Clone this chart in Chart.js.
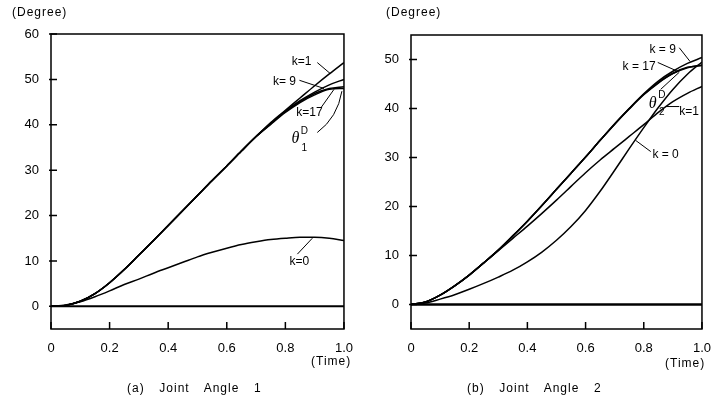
<!DOCTYPE html>
<html>
<head>
<meta charset="utf-8">
<script src="https://cdn.jsdelivr.net/npm/chart.js@4/dist/chart.umd.min.js"></script>
<style>
  body { margin: 0; background: #fff; }
  #page { position: relative; width: 715px; height: 400px; overflow: hidden; font-family: "Liberation Sans", Arial, sans-serif; color: #000; }
  .box { position: absolute; top: 0; }
  .lbl { position: absolute; font-size: 12px; letter-spacing: 1px; white-space: pre; }
  .cap { position: absolute; font-size: 12px; letter-spacing: 1px; word-spacing: 3px; white-space: pre; }
</style>
</head>
<body>
<div id="page">
  <div class="box" style="left:0;width:357px;height:400px"><canvas id="chartA" width="357" height="400"></canvas></div>
  <div class="box" style="left:357px;width:358px;height:400px"><canvas id="chartB" width="358" height="400"></canvas></div>
  <div class="lbl" style="left:12px;top:5px">(Degree)</div>
  <div class="lbl" style="left:386px;top:5px">(Degree)</div>
  <div class="lbl" style="left:311px;top:354px">(Time)</div>
  <div class="lbl" style="left:665px;top:356px">(Time)</div>
  <div class="cap" style="left:127px;top:381px">(a)  Joint  Angle  1</div>
  <div class="cap" style="left:467px;top:381px">(b)  Joint  Angle  2</div>
</div>
<script>
// time axis samples
const times = [0, 0.05, 0.1, 0.15, 0.2, 0.25, 0.3, 0.35, 0.4, 0.45, 0.5,
               0.55, 0.6, 0.65, 0.7, 0.75, 0.8, 0.85, 0.9, 0.95, 1.0];

// (a) joint angle 1
const angle1_k1    = [0, 0.2, 1.1, 2.8, 5.2, 8.1, 11.3, 14.5, 17.8, 21.1, 24.4, 27.7, 30.9, 34.2, 37.4, 40.5, 43.2, 45.9, 48.6, 51.2, 53.7];
const angle1_k9    = [0, 0.2, 1.1, 2.8, 5.2, 8.1, 11.3, 14.5, 17.8, 21.1, 24.4, 27.7, 30.9, 34.2, 37.4, 40.3, 43.0, 45.3, 47.2, 48.8, 50.0];
const angle1_k17   = [0, 0.2, 1.1, 2.8, 5.2, 8.1, 11.3, 14.5, 17.8, 21.1, 24.4, 27.7, 30.9, 34.2, 37.4, 40.2, 42.9, 45.1, 46.9, 48.0, 48.4];
const angle1_theta = [0, 0.2, 1.1, 2.8, 5.2, 8.1, 11.3, 14.5, 17.8, 21.1, 24.4, 27.7, 30.9, 34.2, 37.4, 40.1, 42.7, 44.9, 46.6, 47.8, 48.0];
const angle1_k0    = [0, 0.3, 1.0, 2.1, 3.4, 4.8, 6.0, 7.3, 8.5, 9.7, 10.9, 11.9, 12.8, 13.6, 14.2, 14.7, 15.0, 15.2, 15.2, 15.0, 14.5];

// (b) joint angle 2
const angle2_k9    = [0, 0.5, 1.9, 3.8, 6.0, 8.5, 11.1, 14.0, 17.0, 20.2, 23.5, 26.8, 30.1, 33.5, 36.9, 40.0, 43.0, 45.6, 47.6, 49.2, 50.4];
const angle2_k17   = [0, 0.5, 1.9, 3.8, 6.0, 8.5, 11.1, 14.0, 17.0, 20.2, 23.5, 26.8, 30.1, 33.5, 36.8, 40.0, 42.9, 45.3, 47.2, 48.4, 48.8];
const angle2_theta = [0, 0.5, 1.9, 3.8, 6.0, 8.5, 11.1, 14.0, 17.0, 20.2, 23.5, 26.8, 30.1, 33.5, 36.8, 39.9, 42.8, 45.2, 47.1, 48.3, 48.9];
const angle2_k1    = [0, 0.5, 1.9, 3.8, 6.0, 8.5, 11.0, 13.5, 16.0, 18.6, 21.3, 24.1, 26.9, 29.5, 31.9, 34.3, 36.7, 39.2, 41.4, 43.1, 44.5];
const angle2_k0    = [0, 0.3, 1.1, 2.0, 3.1, 4.3, 5.6, 7.0, 8.7, 10.7, 13.1, 15.9, 19.2, 23.1, 27.4, 31.8, 36.1, 40.2, 43.9, 47.0, 49.5];

// zero reference line
const baseX = [0, 1];
const baseY = [0, 0];

// tick values
const xTicks  = [0, 0.2, 0.4, 0.6, 0.8, 1.0];
const y1Ticks = [0, 10, 20, 30, 40, 50, 60];
const y2Ticks = [0, 10, 20, 30, 40, 50];

// curve labels, placed in data units
const notes1 = [
  { text: 'k=1',  x: 0.855, y: 54.0, from: [0.909, 53.7], to: [0.953, 51.3] },
  { text: 'k= 9', x: 0.797, y: 49.6, from: [0.848, 49.8], to: [0.932, 48.0] },
  { text: 'k=17', x: 0.882, y: 42.7, from: [0.922, 43.8], to: [0.966, 47.8] },
  { theta: '1',   x: 0.834, y: 36.8, from: [0.909, 38.3], via: [0.978, 41.6], to: [0.993, 47.4] },
  { text: 'k=0',  x: 0.848, y: 9.9,  from: [0.841, 11.5], to: [0.892, 15.0] }
];
const notes2 = [
  { text: 'k = 9',  x: 0.865, y: 52.0, from: [0.922, 52.4], to: [0.959, 49.6] },
  { text: 'k = 17', x: 0.784, y: 48.6, from: [0.848, 49.4], to: [0.916, 47.6] },
  { theta: '2',     x: 0.831, y: 41.0, from: [0.858, 43.9], to: [0.922, 47.4] },
  { text: 'k=1',    x: 0.956, y: 39.4, from: [0.922, 40.4], to: [0.875, 40.4] },
  { text: 'k = 0',  x: 0.875, y: 30.6, from: [0.824, 31.2], to: [0.772, 33.5] }
];

const toPoints = (xs, ys) => xs.map((t, i) => ({ x: t, y: ys[i] }));

const curve = (ys) => ({
  data: toPoints(times, ys),
  borderColor: '#000',
  borderWidth: 1.5,
  pointRadius: 0,
  fill: false,
  cubicInterpolationMode: 'monotone'
});

const baseline = (w) => ({
  data: toPoints(baseX, baseY),
  borderColor: '#000',
  borderWidth: w,
  pointRadius: 0,
  fill: false
});

// frame, inward ticks and curve labels
const framePlugin = {
  id: 'framePlugin',
  afterDatasetsDraw(chart, args, opts) {
    const { ctx, chartArea: a, scales: { x, y } } = chart;
    ctx.save();
    ctx.strokeStyle = '#000';
    ctx.fillStyle = '#000';
    ctx.lineWidth = 1.5;
    ctx.strokeRect(a.left, a.top, a.right - a.left, a.bottom - a.top);

    ctx.beginPath();
    x.ticks.forEach(t => {
      const px = x.getPixelForValue(t.value);
      ctx.moveTo(px, a.bottom);
      ctx.lineTo(px, a.bottom - 7);
    });
    y.ticks.forEach(t => {
      const py = y.getPixelForValue(t.value);
      ctx.moveTo(a.left - 2, py);
      ctx.lineTo(a.left + 6, py);
    });
    ctx.stroke();

    ctx.lineWidth = 1;
    ctx.textAlign = 'center';
    ctx.textBaseline = 'middle';
    opts.notes.forEach(n => {
      const px = x.getPixelForValue(n.x);
      const py = y.getPixelForValue(n.y);
      if (n.theta) {
        ctx.font = 'italic 16px "Liberation Serif", serif';
        ctx.fillText('\u03B8', px, py);
        ctx.font = '10px "Liberation Sans", Arial, sans-serif';
        ctx.fillText('D', px + 9, py - 8);
        ctx.fillText(n.theta, px + 9, py + 9);
      } else {
        ctx.font = '12px "Liberation Sans", Arial, sans-serif';
        ctx.fillText(n.text, px, py);
      }
      ctx.beginPath();
      ctx.moveTo(x.getPixelForValue(n.from[0]), y.getPixelForValue(n.from[1]));
      if (n.via) {
        ctx.quadraticCurveTo(x.getPixelForValue(n.via[0]), y.getPixelForValue(n.via[1]),
                             x.getPixelForValue(n.to[0]), y.getPixelForValue(n.to[1]));
      } else {
        ctx.lineTo(x.getPixelForValue(n.to[0]), y.getPixelForValue(n.to[1]));
      }
      ctx.stroke();
    });
    ctx.restore();
  }
};

const makeChart = (canvas, datasets, yMin, yMax, yTicks, yWidth, pad, notes) => new Chart(canvas, {
  type: 'line',
  data: { datasets: datasets },
  options: {
    responsive: false,
    animation: false,
    layout: { padding: pad },
    plugins: {
      legend: { display: false },
      tooltip: { enabled: false },
      framePlugin: { notes: notes }
    },
    scales: {
      x: {
        type: 'linear',
        min: 0,
        max: 1,
        grid: { display: false },
        border: { display: false },
        afterBuildTicks: s => { s.ticks = xTicks.map(v => ({ value: v })); },
        afterFit: s => { s.height = 24; },
        ticks: {
          color: '#000',
          padding: 4,
          maxRotation: 0,
          font: { size: 13, family: '"Liberation Sans", Arial, sans-serif' },
          callback: v => (v === 0 ? '0' : v.toFixed(1))
        }
      },
      y: {
        min: yMin,
        max: yMax,
        grid: { display: false },
        border: { display: false },
        afterBuildTicks: s => { s.ticks = yTicks.map(v => ({ value: v })); },
        afterFit: s => { s.width = yWidth; },
        ticks: {
          color: '#000',
          padding: 4,
          font: { size: 13, family: '"Liberation Sans", Arial, sans-serif' },
          callback: v => String(v)
        }
      }
    }
  },
  plugins: [framePlugin]
});

const chartA = makeChart(document.getElementById('chartA'), [
  curve(angle1_k1), curve(angle1_k9), curve(angle1_k17), curve(angle1_theta), curve(angle1_k0), baseline(2)
], -5, 60, y1Ticks, 51, { left: 0, top: 34, right: 10, bottom: 47 }, notes1);

const chartB = makeChart(document.getElementById('chartB'), [
  curve(angle2_k9), curve(angle2_k17), curve(angle2_theta), curve(angle2_k1), curve(angle2_k0), baseline(2.5)
], -5, 55, y2Ticks, 54, { left: 0, top: 35, right: 8, bottom: 47 }, notes2);
</script>
</body>
</html>
